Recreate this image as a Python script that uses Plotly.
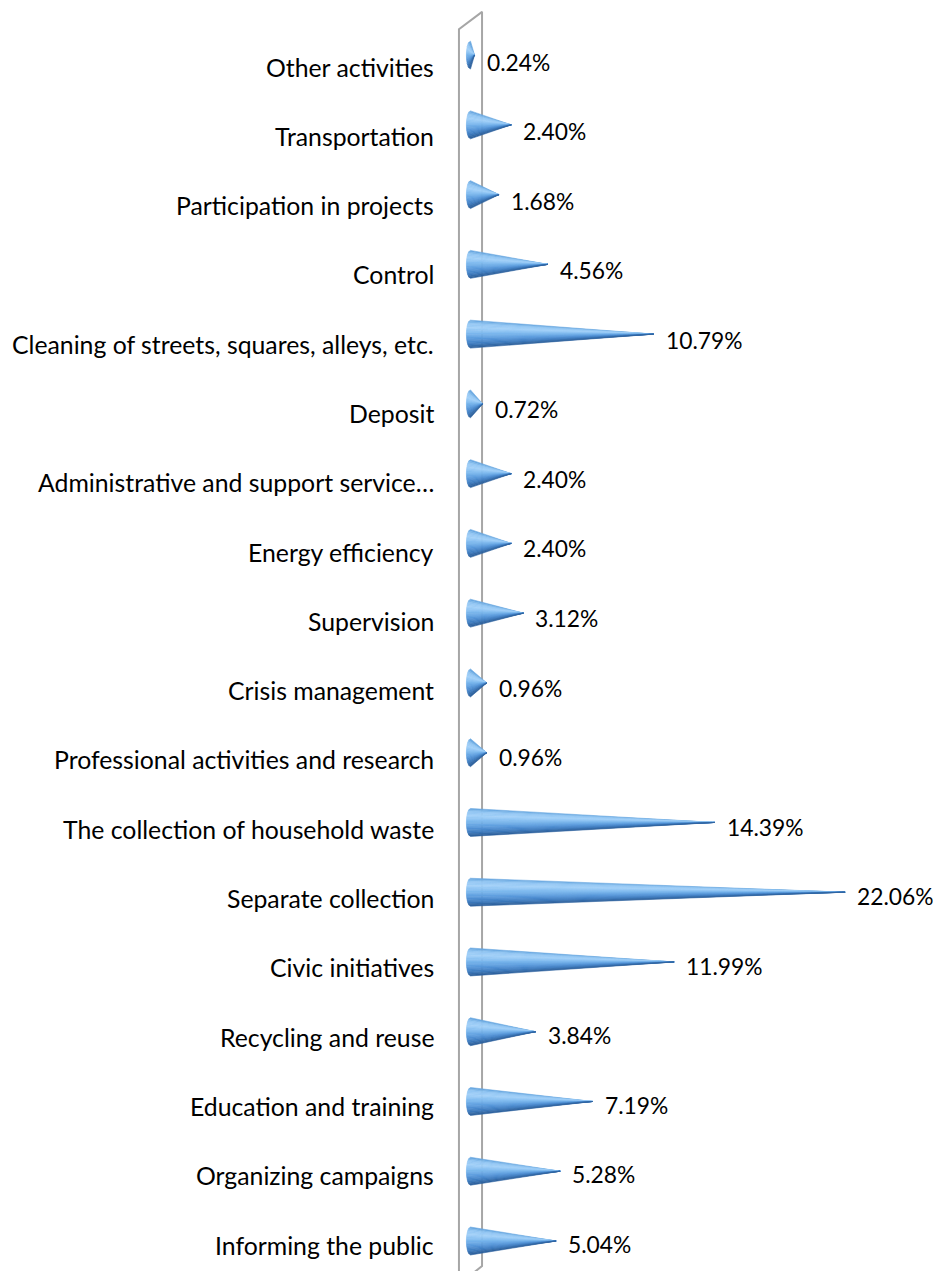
import numpy as np
import plotly.graph_objects as go

categories = [
    "Informing the public",
    "Organizing campaigns",
    "Education and training",
    "Recycling and reuse",
    "Civic initiatives",
    "Separate collection",
    "The collection of household waste",
    "Professional activities and research",
    "Crisis management",
    "Supervision",
    "Energy efficiency",
    "Administrative and support service…",
    "Deposit",
    "Cleaning of streets, squares, alleys, etc.",
    "Control",
    "Participation in projects",
    "Transportation",
    "Other activities",
]
values = [5.04, 5.28, 7.19, 3.84, 11.99, 22.06, 14.39, 0.96, 0.96, 3.12,
          2.40, 2.40, 0.72, 10.79, 4.56, 1.68, 2.40, 0.24]
value_labels = [f"{v:.2f}%" for v in values]

FONT = "Lato"
FS = 24.8
FS_VAL = 22.8

# cone geometry (data units)
B = 0.20    # half height of cone base
A = 0.24    # half width of base ellipse
NB = 20     # shading bands

stops = [(0.0, (96, 160, 220)), (0.12, (146, 198, 243)), (0.28, (162, 208, 248)),
         (0.48, (124, 184, 238)), (0.68, (90, 154, 220)), (0.86, (62, 124, 192)),
         (1.0, (44, 94, 152))]


def shade(t):
    for (t0, c0), (t1, c1) in zip(stops[:-1], stops[1:]):
        if t0 <= t <= t1:
            f = (t - t0) / (t1 - t0)
            c = [round(c0[k] + (c1[k] - c0[k]) * f) for k in range(3)]
            return f"rgb({c[0]},{c[1]},{c[2]})"
    return "rgb(44,94,152)"


fig = go.Figure()

# back wall (3D panel) drawn behind the cones
wall_x = [-0.68, -0.68, 0.68, 0.68, -0.68]
wall_y = [-0.62, 17.37, 17.62, -0.36, -0.62]
fig.add_trace(go.Scatter(x=wall_x, y=wall_y, mode="lines",
                         line=dict(color="#A6A6A6", width=2),
                         hoverinfo="skip", showlegend=False))

for b in range(NB):
    t0, t1 = b / NB, (b + 1) / NB
    xs, ys = [], []
    for i, v in enumerate(values):
        yy = np.linspace(i + B - 2 * B * t0, i + B - 2 * B * t1, 4)
        ex = -A * np.sqrt(np.clip(1 - ((yy - i) / B) ** 2, 0, 1))
        xs += list(ex) + [v, ex[0], None]
        ys += list(yy) + [i, yy[0], None]
    col = shade((t0 + t1) / 2)
    fig.add_trace(go.Scatter(x=xs, y=ys, mode="lines", fill="toself",
                             fillcolor=col, line=dict(color=col, width=0.6),
                             hoverinfo="skip", showlegend=False))

n = len(categories)
for i, (v, lab) in enumerate(zip(values, value_labels)):
    fig.add_annotation(x=v, y=i, text=lab, showarrow=False, xanchor="left",
                       yanchor="middle", xshift=10,
                       yshift=-(3 + 3.5 * i / (n - 1)),
                       font=dict(family=FONT, size=FS_VAL, color="#000000"))

# category labels (perspective makes them drift slightly from cone centres)
for i, cat in enumerate(categories):
    fig.add_annotation(x=0, xref="paper", y=i, text=cat, showarrow=False,
                       xanchor="right", yanchor="middle", xshift=-4,
                       yshift=-(4 + 8 * i / (n - 1)),
                       font=dict(family=FONT, size=FS, color="#000000"))

fig.update_layout(
    width=933, height=1263,
    margin=dict(l=432, r=0, t=0, b=0),
    paper_bgcolor="white", plot_bgcolor="white",
    font=dict(family=FONT, size=FS, color="#000000"),
    xaxis=dict(range=[-1.796, 27.71], visible=False, fixedrange=True),
    yaxis=dict(range=[-0.430, 17.675], visible=False, fixedrange=True),
)

fig.write_html("out.html")
